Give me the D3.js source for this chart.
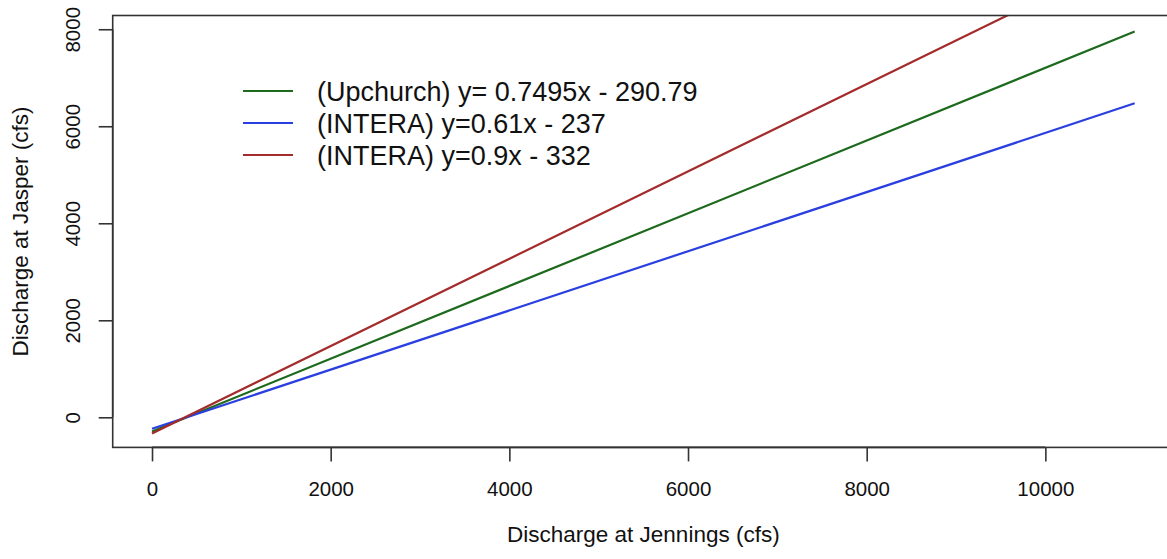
<!DOCTYPE html>
<html>
<head>
<meta charset="utf-8">
<script src="https://cdn.jsdelivr.net/npm/d3@7"></script>
<style>
  html, body { margin: 0; padding: 0; background: #fff; }
  svg { display: block; font-family: "Liberation Sans", Arial, sans-serif; }
</style>
</head>
<body>
<svg id="chart" width="1167" height="559"></svg>
<script>
// Rating relations between discharge at Jennings (x) and Jasper (y), in cfs
const xEnds = [0, 11000];
const upchurchY = [-290.79, 7953.71];   // y = 0.7495x - 290.79
const interaLowY = [-237, 6473];        // y = 0.61x - 237
const interaHighY = [-332, 9568];       // y = 0.9x - 332

const seriesNames = [
  "(Upchurch) y= 0.7495x - 290.79",
  "(INTERA) y=0.61x - 237",
  "(INTERA) y=0.9x - 332"
];
const seriesColors = ["#1d6a1d", "#2a3fe0", "#a32b2b"];
const seriesValues = [upchurchY, interaLowY, interaHighY];

const xTicks = [0, 2000, 4000, 6000, 8000, 10000];
const yTicks = [0, 2000, 4000, 6000, 8000];

const xDomain = [-440, 11440];
const yDomain = [-620.6, 8283.5];

const svg = d3.select("#chart");
const plot = { left: 112.7, right: 1174, top: 15.5, bottom: 447.4 };

const x = d3.scaleLinear().domain(xDomain).range([plot.left, plot.right]);
const y = d3.scaleLinear().domain(yDomain).range([plot.bottom, plot.top]);

svg.append("defs").append("clipPath").attr("id", "plot-clip")
  .append("rect")
  .attr("x", plot.left).attr("y", plot.top)
  .attr("width", plot.right - plot.left).attr("height", plot.bottom - plot.top);

// Regression lines
const line = d3.line().x(d => x(d[0])).y(d => y(d[1]));
const lineLayer = svg.append("g").attr("clip-path", "url(#plot-clip)");
seriesValues.forEach((vals, i) => {
  lineLayer.append("path")
    .attr("d", line(xEnds.map((xv, j) => [xv, vals[j]])))
    .attr("fill", "none")
    .attr("stroke", seriesColors[i])
    .attr("stroke-width", 2.2);
});

// Plot frame
svg.append("rect")
  .attr("x", plot.left).attr("y", plot.top)
  .attr("width", plot.right - plot.left).attr("height", plot.bottom - plot.top)
  .attr("fill", "none").attr("stroke", "#333").attr("stroke-width", 1.6);

// Bottom axis
const xAxis = svg.append("g")
  .attr("transform", `translate(0,${plot.bottom})`)
  .call(d3.axisBottom(x).tickValues(xTicks).tickSize(14).tickFormat(d3.format("d")));
xAxis.select(".domain")
  .attr("d", `M${x(xTicks[0])},0H${x(xTicks[xTicks.length - 1])}`);

// Left axis
const yAxis = svg.append("g")
  .attr("transform", `translate(${plot.left},0)`)
  .call(d3.axisLeft(y).tickValues(yTicks).tickSize(14).tickFormat(d3.format("d")));
yAxis.select(".domain")
  .attr("d", `M0,${y(yTicks[0])}V${y(yTicks[yTicks.length - 1])}`);
yAxis.selectAll(".tick text")
  .attr("x", 0).attr("y", 0).attr("dy", null)
  .attr("transform", "translate(-33,0) rotate(-90)")
  .attr("text-anchor", "middle");

[xAxis, yAxis].forEach(a => {
  a.selectAll(".domain, .tick line").attr("stroke", "#333").attr("stroke-width", 1.6);
  a.selectAll(".tick text").attr("fill", "#111").style("font-size", "20.5px")
    .style("font-family", "'Liberation Sans', Arial, sans-serif");
});
xAxis.selectAll(".tick text").attr("dy", null).attr("y", 49);

// Axis titles
svg.append("text")
  .attr("x", (plot.left + plot.right) / 2).attr("y", 542)
  .attr("text-anchor", "middle")
  .attr("fill", "#111").style("font-size", "22.5px")
  .text("Discharge at Jennings (cfs)");

svg.append("text")
  .attr("transform", `translate(28,${(plot.top + plot.bottom) / 2}) rotate(-90)`)
  .attr("text-anchor", "middle")
  .attr("fill", "#111").style("font-size", "22.5px")
  .text("Discharge at Jasper (cfs)");

// Legend
const legend = svg.append("g").attr("transform", "translate(243,91)");
seriesNames.forEach((name, i) => {
  const row = legend.append("g").attr("transform", `translate(0,${i * 32})`);
  row.append("line")
    .attr("x1", 0).attr("x2", 50).attr("y1", 0).attr("y2", 0)
    .attr("stroke", seriesColors[i]).attr("stroke-width", 2.2);
  row.append("text")
    .attr("x", 74).attr("y", 0).attr("dy", "0.36em")
    .attr("fill", "#111").style("font-size", "27px")
    .text(name);
});
</script>
</body>
</html>
